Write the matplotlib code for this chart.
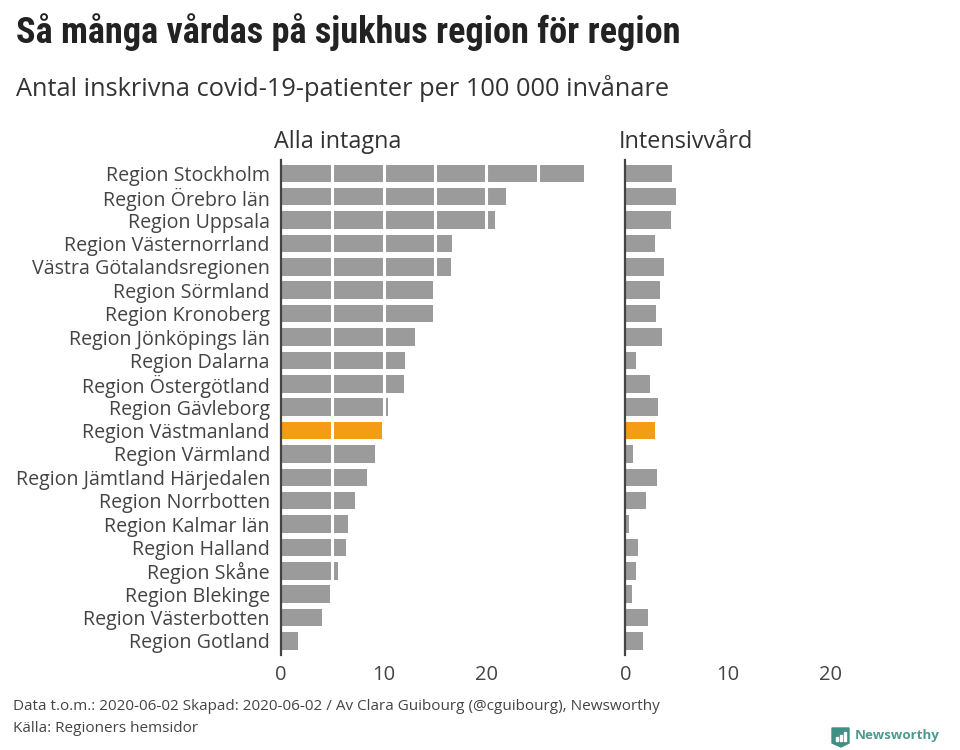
#!/usr/bin/env python
# Covid-19 patients in hospital per region, two panels side by side

import matplotlib
matplotlib.use('Agg')
import matplotlib.pyplot as plt
from matplotlib.patches import Polygon, Rectangle

plt.rcParams['font.family'] = ['Open Sans', 'DejaVu Sans']

regions = ['Region Stockholm', 'Region Örebro län', 'Region Uppsala', 'Region Västernorrland',
           'Västra Götalandsregionen', 'Region Sörmland', 'Region Kronoberg', 'Region Jönköpings län',
           'Region Dalarna', 'Region Östergötland', 'Region Gävleborg', 'Region Västmanland',
           'Region Värmland', 'Region Jämtland Härjedalen', 'Region Norrbotten', 'Region Kalmar län',
           'Region Halland', 'Region Skåne', 'Region Blekinge', 'Region Västerbotten', 'Region Gotland']
alla = [29.5, 21.9, 20.8, 16.7, 16.6, 14.8, 14.8, 13.1, 12.1, 12.0, 10.4,
        9.8, 9.2, 8.4, 7.2, 6.5, 6.3, 5.6, 4.8, 4.0, 1.7]
iva = [4.55, 4.9, 4.45, 2.85, 3.8, 3.4, 2.95, 3.55, 1.05, 2.4, 3.15,
       2.9, 0.75, 3.1, 2.0, 0.4, 1.25, 1.05, 0.65, 2.25, 1.7]
xticks = [0, 10, 20]
white_lines = [5, 10, 15, 20, 25]
highlight = 'Region Västmanland'

grey = '#9b9b9b'
orange = '#f59c16'
dark = '#444444'
W, H = 960, 750


def panel(left, values, show_labels):
    # 30 units is 308 px wide, axis runs from y=160 to y=655
    ax = fig.add_axes([left / W, 1 - 655 / H, 308 / W, 495 / H])
    colors = [orange if r == highlight else grey for r in regions]
    ax.barh(range(len(regions)), values, height=0.75, color=colors, zorder=2)
    ax.vlines(white_lines, -1, len(regions), color='white', lw=2.2, zorder=3)
    ax.set_xlim(0, 30)
    ax.set_ylim(20.6, -0.57)
    for s in ['top', 'right', 'bottom']:
        ax.spines[s].set_visible(False)
    ax.spines['left'].set_color('#444444')
    ax.spines['left'].set_linewidth(1.6)
    ax.spines['left'].set_zorder(4)
    ax.set_xticks(xticks)
    ax.tick_params(axis='x', length=0, pad=7, labelsize=14.5, labelcolor=dark)
    if show_labels:
        ax.set_yticks(range(len(regions)))
        ax.set_yticklabels(regions)
        ax.tick_params(axis='y', length=0, pad=8, labelsize=14.1, labelcolor=dark)
    else:
        ax.set_yticks([])
    ax.patch.set_alpha(0)
    return ax


fig = plt.figure(figsize=(W / 100, H / 100), dpi=100)

panel(281, alla, True)
panel(625.3, iva, False)

# overlay in pixel coordinates for titles, footer and logo
ov = fig.add_axes([0, 0, 1, 1], zorder=-1)
ov.set_xlim(0, W)
ov.set_ylim(H, 0)
ov.axis('off')

ov.text(16, 32, 'Så många vårdas på sjukhus region för region', fontsize=26.1, fontweight='bold',
        family=['Roboto Condensed', 'Open Sans'], color='#222222', va='center')
ov.text(16, 89, 'Antal inskrivna covid-19-patienter per 100 000 invånare', fontsize=18.3,
        color='#333333', va='center')
ov.text(274, 142, 'Alla intagna', fontsize=16.8, color='#333333', va='center')
ov.text(619, 142, 'Intensivvård', fontsize=16.9, color='#333333', va='center')
ov.text(13, 707, 'Data t.o.m.: 2020-06-02 Skapad: 2020-06-02 / Av Clara Guibourg (@cguibourg), Newsworthy',
        fontsize=11, color=dark, va='center')
ov.text(13, 729, 'Källa: Regioners hemsidor', fontsize=11, color=dark, va='center')

ov.add_patch(Polygon([(832, 728), (849, 728), (849, 743), (841, 747), (832, 743)], color='#3f8f84'))
for x0, y0, h0 in [(836, 737, 4), (840, 735, 6), (844, 732, 9)]:
    ov.add_patch(Rectangle((x0, y0), 2, h0, color='white'))
ov.text(855, 736, 'Newsworthy', fontsize=9.6, fontweight='bold', color='#4f9a8f', va='center')

fig.savefig('out.png', dpi=100)
